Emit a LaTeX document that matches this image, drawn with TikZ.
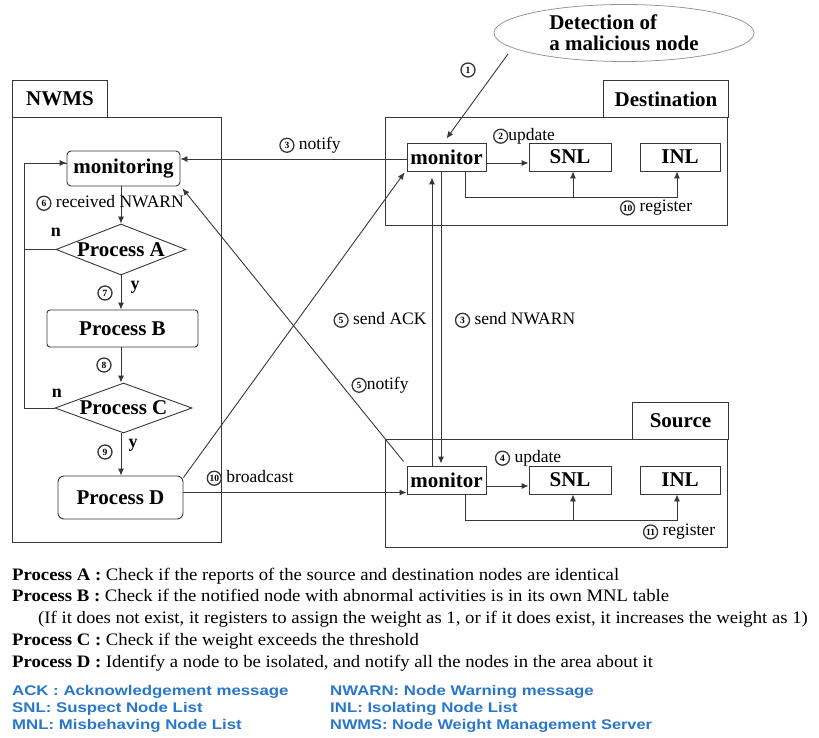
\documentclass[tikz,border=0pt]{standalone}
\usepackage{graphicx}
\usepackage{fontspec}
\setmainfont{Liberation Serif}
\newfontfamily\legendsans{Liberation Sans}
\usetikzlibrary{shapes.geometric,arrows.meta}
\definecolor{legendblue}{RGB}{40,118,205}
\definecolor{ink}{RGB}{55,55,55}
\definecolor{haze}{RGB}{150,150,150}
% circled step numbers
\newcommand{\cn}[1]{\tikz[baseline={([yshift=-0.5ex]cc.center)}]\node[circle, draw=ink, line width=1.3pt, inner sep=0pt, minimum size=14pt, font=\rmfamily\bfseries\fontsize{9.5}{9.5}\selectfont] (cc) {#1};}

\begin{document}
\begin{tikzpicture}[x=1pt,y=-1pt,
  wire/.style={draw=ink, line width=0.9pt},
  arr/.style={wire, -{Latex[length=7pt,width=6pt]}},
  frame/.style={draw=ink, line width=1pt, anchor=north west, inner sep=0pt},
  lbl/.style={font=\rmfamily\bfseries\fontsize{21}{23}\selectfont},
  tablbl/.style={frame, font=\rmfamily\bfseries\fontsize{21}{23}\selectfont},
  flowbox/.style={draw=ink, line width=0.9pt, inner sep=0pt, lbl},
  decision/.style={diamond, draw=ink, line width=0.9pt, inner sep=0pt, aspect=2.5},
  note/.style={font=\rmfamily\fontsize{17.5}{19}\selectfont, inner sep=0pt},
  yn/.style={font=\rmfamily\bfseries\fontsize{18}{20}\selectfont, inner sep=0pt},
  legend/.style={anchor=base west, inner sep=0pt, font=\rmfamily\fontsize{17.5}{19}\selectfont},
  key/.style={anchor=base west, inner sep=0pt, text=legendblue, font=\legendsans\bfseries\fontsize{14}{16}\selectfont}
]
\useasboundingbox (0,0) rectangle (819,738);

% detection event
\node[ellipse, draw=haze, line width=0.8pt, minimum width=260pt, minimum height=57pt, inner sep=0pt,
      font=\rmfamily\bfseries\fontsize{21}{21}\selectfont, align=left] (det) at (624,33)
      {Detection of\\a malicious node};
\coordinate (detfoot) at (508,54);

% containers
\node[frame, minimum width=209pt, minimum height=425pt] (nwms) at (12,117) {};
\node[tablbl, minimum width=95pt, minimum height=37pt] (nwmstab) at (12,80) {NWMS};
\node[frame, minimum width=342pt, minimum height=108pt] (dst) at (385,117) {};
\node[tablbl, minimum width=125pt, minimum height=37pt] (dsttab) at (603,80) {Destination};
\node[frame, minimum width=342pt, minimum height=108pt] (src) at (385,439) {};
\node[tablbl, minimum width=96pt, minimum height=37pt] (srctab) at (632,402) {Source};

% NWMS flow
\node[flowbox, rounded corners=4pt, minimum width=113pt, minimum height=35pt] (monitoring) at (123.5,168.5) {monitoring};
\node[decision, minimum width=130pt, minimum height=51pt, label={[lbl]center:Process A}] (procA) at (121,249.5) {};
\node[flowbox, rounded corners=3pt, minimum width=151pt, minimum height=37pt] (procB) at (122.5,328.5) {Process B};
\node[decision, minimum width=137pt, minimum height=50pt, label={[lbl]center:Process C}] (procC) at (123.5,408) {};
\node[flowbox, rounded corners=6pt, minimum width=125pt, minimum height=43pt] (procD) at (120.5,497.5) {Process D};

% node-side lists
\node[flowbox, minimum width=79pt, minimum height=28pt] (dmon) at (446.5,157) {monitor};
\node[flowbox, minimum width=82pt, minimum height=28pt] (dsnl) at (570,157) {SNL};
\node[flowbox, minimum width=80pt, minimum height=28pt] (dinl) at (680,157) {INL};
\node[flowbox, minimum width=79pt, minimum height=28pt] (smon) at (446.5,480) {monitor};
\node[flowbox, minimum width=82pt, minimum height=28pt] (ssnl) at (570,480) {SNL};
\node[flowbox, minimum width=80pt, minimum height=28pt] (sinl) at (680,480) {INL};

% detection -> destination monitor
\draw[arr] (detfoot) -- ([yshift=4pt]dmon.north);
\node[note] (s1) at (468,70) {\cn{1}};

% destination internals
\draw[arr] ([yshift=-6pt]dmon.east) -- ([yshift=-6pt]dsnl.west);
\node[note] (s2) at (524,136) {\cn{2}update};
\draw[arr] ([xshift=18.5pt]dmon.south) -- ++(0,26) -| ([xshift=-3pt]dinl.south);
\draw[arr] ([xshift=18.5pt]dmon.south) ++(0,26) -| ([xshift=3pt]dsnl.south);
\node[note] (s10d) at (656,208) {\cn{10} register};

% source internals
\draw[arr] ([yshift=-6pt]smon.east) -- ([yshift=-6pt]ssnl.west);
\node[note] (s4) at (528,458) {\cn{4} update};
\draw[arr] ([xshift=18.5pt]smon.south) -- ++(0,26) -| ([xshift=-3pt]sinl.south);
\draw[arr] ([xshift=18.5pt]smon.south) ++(0,26) -| ([xshift=3pt]ssnl.south);
\node[note] (s11) at (679,532) {\cn{11} register};

% warning / acknowledgement between the two nodes
\draw[arr] ([xshift=-5.5pt]dmon.south) -- ([xshift=-5.5pt,yshift=2pt]smon.north);
\draw[arr] ([xshift=-14.5pt]smon.north) -- ([xshift=-14.5pt,yshift=-6pt]dmon.south);
\node[note] (s5a) at (380,320) {\cn{5} send ACK};
\node[note] (s3a) at (515,320) {\cn{3} send NWARN};

% notifications to NWMS
\draw[arr] ([yshift=-2pt]dmon.west) -- ([yshift=-2pt]dmon.west -| monitoring.east);
\node[note] (s3b) at (310,145) {\cn{3} notify};
\draw[arr] ([shift={(-3pt,4pt)}]smon.north west) -- ([shift={(2pt,-2pt)}]monitoring.south east);
\node[note] (s5b) at (380,385) {\cn{5}notify};

% NWMS decision flow
\draw[arr] (monitoring.south -| procA.north) -- (procA.north);
\node[note] (s6) at (110,203) {\cn{6} received NWARN};
\draw[arr] (procA.west) -- ++(-31,0) |- ([yshift=5.5pt]monitoring.west);
\node[yn] (nA) at (56,232) {n};
\draw[arr] (procA.south) -- (procB.north -| procA.south);
\node[note] (s7) at (105,293) {\cn{7}};
\node[yn] (yA) at (135,287) {y};
\draw[arr] (procB.south -| procA.south) -- (procC.north -| procA.south);
\node[note] (s8) at (104,365) {\cn{8}};
\draw[wire] (procC.west) -- ++(-30,0) |- ([yshift=5.5pt]monitoring.west);
\node[yn] (nC) at (57,393) {n};
\draw[arr] (procC.south -| procA.south) -- (procD.north -| procA.south);
\node[note] (s9) at (105,452) {\cn{9}};
\node[yn] (yC) at (133,445) {y};

% isolation broadcast
\draw[arr] ([yshift=-2pt]procD.north east) -- ([shift={(-2pt,-1pt)}]dmon.south west);
\draw[arr] ([yshift=5pt]procD.east) -- ([yshift=5pt]procD.east -| smon.west);
\node[note] (s10b) at (250,478) {\cn{10} broadcast};

% process descriptions
\node[legend] (la) at (12,580) {\scalebox{1.07}[1]{\textbf{Process A :} Check if the reports of the source and destination nodes are identical}};
\node[legend] (lb) at (12,601) {\scalebox{1.07}[1]{\textbf{Process B :} Check if the notified node with abnormal activities is in its own MNL table}};
\node[legend] (lb2) at (38,623) {\scalebox{1.07}[1]{(If it does not exist, it registers to assign the weight as 1, or if it does exist, it increases the weight as 1)}};
\node[legend] (lc) at (12,645) {\scalebox{1.07}[1]{\textbf{Process C :} Check if the weight exceeds the threshold}};
\node[legend] (ld) at (12,667) {\scalebox{1.07}[1]{\textbf{Process D :} Identify a node to be isolated, and notify all the nodes in the area about it}};

% abbreviations
\node[key] (k1) at (12,695) {\scalebox{1.2}[1]{ACK : Acknowledgement message}};
\node[key] (k2) at (12,712) {\scalebox{1.2}[1]{SNL: Suspect Node List}};
\node[key] (k3) at (12,729) {\scalebox{1.2}[1]{MNL: Misbehaving Node List}};
\node[key] (k4) at (330,695) {\scalebox{1.2}[1]{NWARN: Node Warning message}};
\node[key] (k5) at (330,712) {\scalebox{1.2}[1]{INL: Isolating Node List}};
\node[key] (k6) at (330,729) {\scalebox{1.17}[1]{NWMS: Node Weight Management Server}};
\end{tikzpicture}
\end{document}
